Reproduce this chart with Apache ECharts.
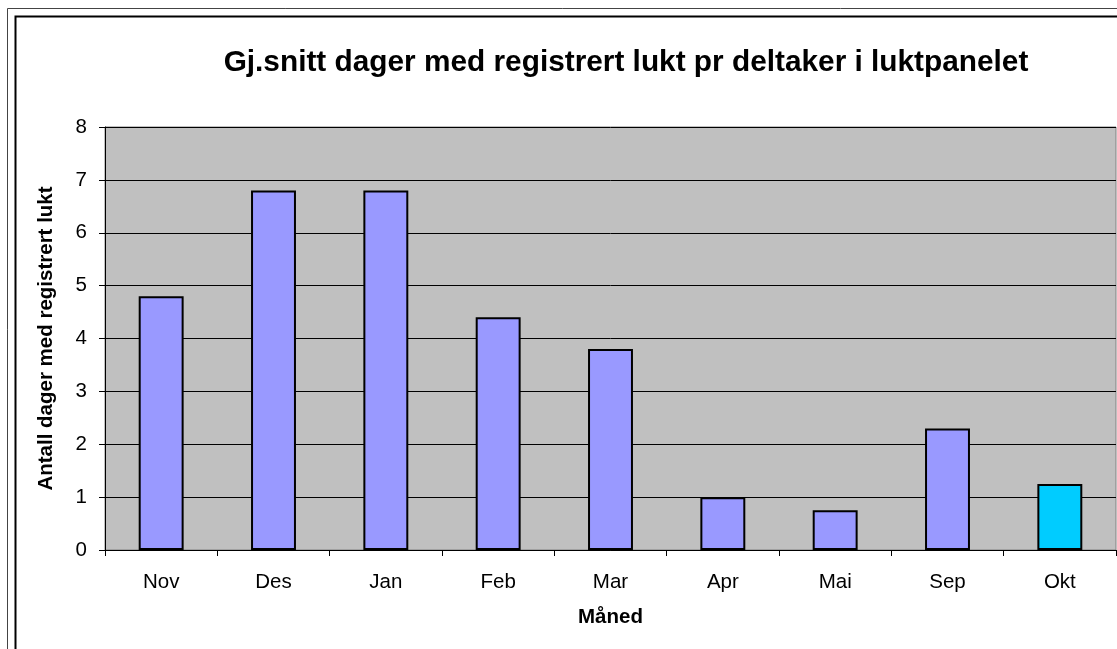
<!DOCTYPE html>
<html>
<head>
<meta charset="utf-8">
<script src="https://cdn.jsdelivr.net/npm/echarts@6/dist/echarts.min.js"></script>
<style>
  html, body { margin: 0; padding: 0; background: #fff; }
  #main { width: 1117px; height: 649px; }
</style>
</head>
<body>
<div id="main"></div>
<script>
var months = ['Nov', 'Des', 'Jan', 'Feb', 'Mar', 'Apr', 'Mai', 'Sep', 'Okt'];
var dager = [4.8, 6.8, 6.8, 4.4, 3.8, 1.0, 0.75, 2.3, 1.25];
var yTicks = [0, 8, 1]; // min, max, interval

var chart = echarts.init(document.getElementById('main'));

var barData = dager.map(function (v, i) {
  // last month drawn in another colour
  if (i === dager.length - 1) {
    return { value: v, itemStyle: { color: '#00CCFF' } };
  }
  return v;
});

var option = {
  backgroundColor: '#fff',
  animation: false,
  textStyle: { fontFamily: 'Liberation Sans, Arial, sans-serif' },
  title: {
    text: 'Gj.snitt dager med registrert lukt pr deltaker i luktpanelet',
    left: 621,
    textAlign: 'center',
    top: 43,
    textStyle: { fontSize: 29.8, fontWeight: 'bold', color: '#000' }
  },
  graphic: [
    { type: 'rect', shape: { x: 7.5, y: 8.5, width: 1200, height: 700 },
      style: { fill: 'none', stroke: '#444', lineWidth: 1 }, silent: true },
    { type: 'rect', shape: { x: 15.5, y: 16.5, width: 1200, height: 700 },
      style: { fill: 'none', stroke: '#000', lineWidth: 2 }, silent: true }
  ],
  grid: {
    left: 105, top: 127, right: 1, bottom: 99,
    show: true, backgroundColor: '#C0C0C0', borderColor: '#808080', borderWidth: 1
  },
  xAxis: {
    type: 'category',
    data: months,
    name: 'Måned',
    nameLocation: 'middle',
    nameGap: 57,
    nameTextStyle: { fontSize: 20.5, fontWeight: 'bold', color: '#000' },
    axisLine: { lineStyle: { color: '#000', width: 1 } },
    axisTick: { show: true, length: 6, lineStyle: { color: '#000' } },
    axisLabel: { fontSize: 20.5, color: '#000', margin: 22 }
  },
  yAxis: {
    type: 'value',
    min: yTicks[0],
    max: yTicks[1],
    interval: yTicks[2],
    name: 'Antall dager med registrert lukt',
    nameLocation: 'middle',
    nameGap: 48,
    nameTextStyle: { fontSize: 20.5, fontWeight: 'bold', color: '#000' },
    axisLine: { show: true, lineStyle: { color: '#000', width: 1 } },
    axisTick: { show: true, length: 6, lineStyle: { color: '#000' } },
    axisLabel: { fontSize: 20.5, color: '#000', margin: 18 },
    splitLine: { show: true, lineStyle: { color: '#000', width: 1 } }
  },
  series: [{
    type: 'bar',
    data: barData,
    barCategoryGap: '60%',
    itemStyle: { color: '#9999FF', borderColor: '#000', borderWidth: 2 }
  }]
};

chart.setOption(option);
</script>
</body>
</html>
